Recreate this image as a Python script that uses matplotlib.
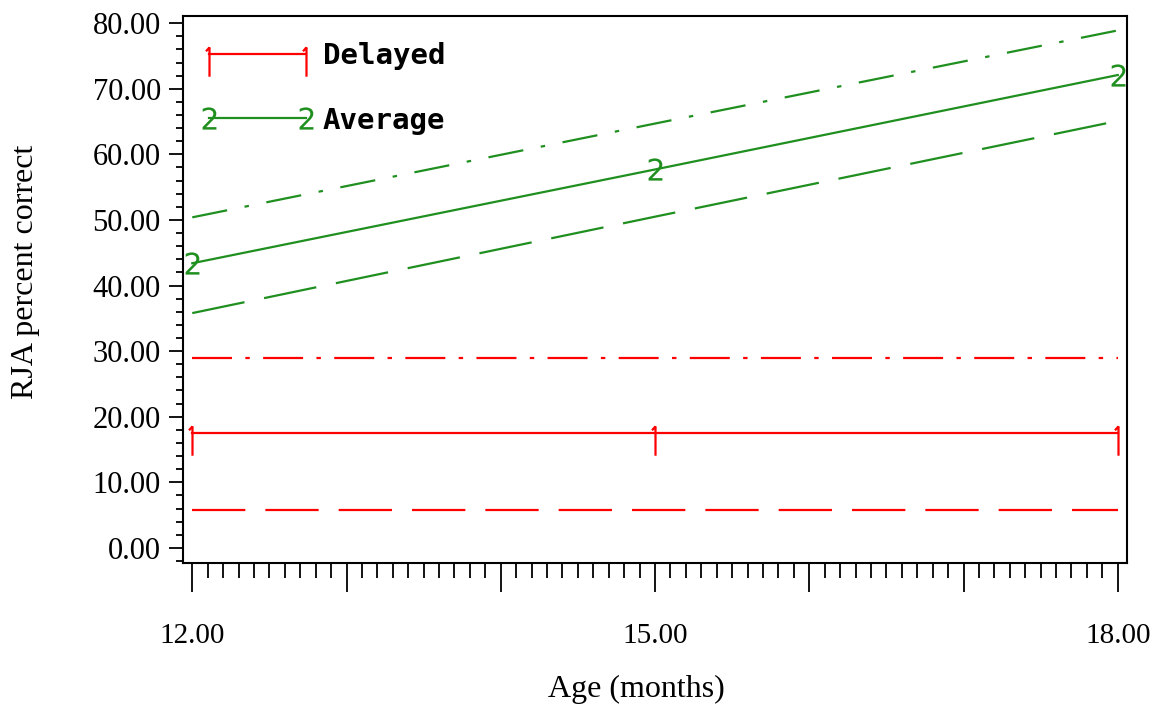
import matplotlib
matplotlib.use("Agg")
import numpy as np
import matplotlib.pyplot as plt
from matplotlib.ticker import MultipleLocator, FixedLocator
from matplotlib.lines import Line2D
from matplotlib.path import Path
from matplotlib.legend_handler import HandlerLine2D

# values
ages = [12, 15, 18]
delayed_mean = [17.5, 17.5, 17.5]
delayed_upper = [28.9, 28.9, 28.9]
delayed_lower = [5.8, 5.8, 5.8]
average_mean = [43.4, 57.7, 72.1]
average_upper = [50.4, 64.7, 78.9]
average_lower = [35.8, 50.5, 65.1]
x_labels = ["12.00", "15.00", "18.00"]
y_ticks = [0, 10, 20, 30, 40, 50, 60, 70, 80]

red = "#ff0000"
green = "#1f8f1f"

# thin "1" symbol: tall stem with a small flag on top
one_marker = Path([(0, 0.45), (0, -1.4), (0, 0.45), (-0.22, 0.2)],
                  [Path.MOVETO, Path.LINETO, Path.MOVETO, Path.LINETO])


class InsetHandler(HandlerLine2D):
    # line spans the whole handle, markers sit a bit inside
    def get_xdata(self, legend, xdescent, ydescent, width, height, fontsize):
        xdata = np.array([-xdescent, -xdescent + width])
        xmark = np.array([-xdescent + 0.2 * width, -xdescent + 0.8 * width])
        return xdata, xmark


fig = plt.figure(figsize=(11.62, 7.11), dpi=100)
ax = fig.add_axes([0.1575, 0.2082, 0.8124, 0.7693])

# delayed group
ax.plot(ages, delayed_upper, color=red, lw=1.6, dashes=(18, 6, 2, 6))
ax.plot(ages, delayed_lower, color=red, lw=1.6, dashes=(24, 9))
ax.plot(ages, delayed_mean, color=red, lw=1.6, marker=one_marker, ms=32,
        mew=1.6, mec=red)

# average group
ax.plot(ages, average_upper, color=green, lw=1.6, dashes=(16, 8, 2, 8))
ax.plot(ages, average_lower, color=green, lw=1.6, dashes=(24, 9))
ax.plot(ages, average_mean, color=green, lw=1.6, marker="$2$", ms=16,
        mew=0)

ax.set_xlim(11.94, 18.06)
ax.set_ylim(-2.3, 81.1)

ax.xaxis.set_major_locator(FixedLocator([12, 13, 14, 15, 16, 17, 18]))
ax.set_xticklabels(["12.00", "", "", "15.00", "", "", "18.00"])
ax.xaxis.set_minor_locator(MultipleLocator(0.1))
ax.yaxis.set_major_locator(FixedLocator(y_ticks))
ax.set_yticklabels(["%.2f" % v for v in y_ticks])
ax.yaxis.set_minor_locator(MultipleLocator(2))

ax.tick_params(axis="both", which="both", direction="out", width=1.3,
               colors="black")
ax.tick_params(axis="x", which="major", length=21, pad=22, labelsize=21)
ax.tick_params(axis="x", which="minor", length=11)
ax.tick_params(axis="y", which="major", length=10, pad=6, labelsize=22)
ax.tick_params(axis="y", which="minor", length=5)
for lab in ax.get_xticklabels() + ax.get_yticklabels():
    lab.set_family("Liberation Serif")

for sp in ax.spines.values():
    sp.set_linewidth(1.5)

ax.set_ylabel("RJA percent correct", family="Liberation Serif", fontsize=23)
ax.yaxis.set_label_coords(-0.152, 0.532)
ax.set_xlabel("Age (months)", family="Liberation Serif", fontsize=23)
ax.xaxis.set_label_coords((636 - 183) / 944, -0.205)

handles = [
    Line2D([], [], color=red, lw=1.6, marker=one_marker, ms=32, mew=1.6),
    Line2D([], [], color=green, lw=1.6, marker="$2$", ms=16, mew=0),
]
leg = ax.legend(handles, ["Delayed", "Average"], loc="upper left",
                numpoints=2, frameon=False, handlelength=3.3,
                handletextpad=0.6, labelspacing=1.25, borderaxespad=0.5,
                handler_map={Line2D: InsetHandler()},
                prop={"family": "DejaVu Sans Mono", "weight": "bold", "size": 21})

fig.savefig("out.png", dpi=100)
